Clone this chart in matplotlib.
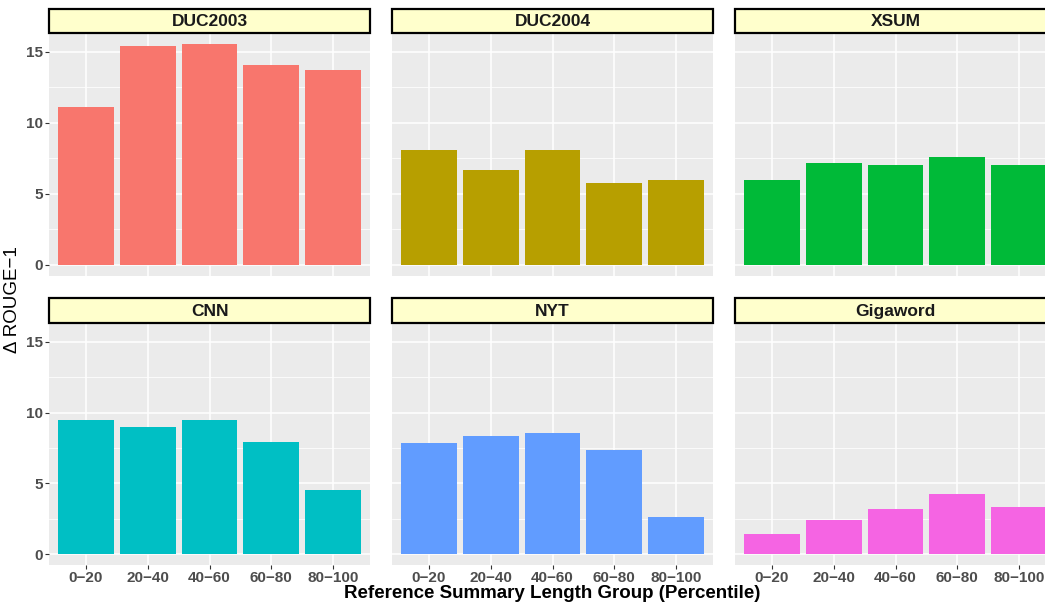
import numpy as np
import matplotlib
matplotlib.use("Agg")
import matplotlib.pyplot as plt
from matplotlib.patches import Rectangle

plt.rcParams["font.family"] = ["Liberation Sans", "DejaVu Sans"]

# ---- data ----
groups = ["0\u221220", "20\u221240", "40\u221260", "60\u221280", "80\u2212100"]
datasets = ["DUC2003", "DUC2004", "XSUM", "CNN", "NYT", "Gigaword"]
duc2003 = [11.15, 15.4, 15.55, 14.1, 13.7]
duc2004 = [8.1, 6.65, 8.1, 5.8, 6.0]
xsum = [6.0, 7.2, 7.05, 7.6, 7.05]
cnn = [9.45, 8.95, 9.45, 7.9, 4.5]
nyt = [7.85, 8.35, 8.55, 7.35, 2.6]
gigaword = [1.4, 2.4, 3.2, 4.25, 3.3]
values = [duc2003, duc2004, xsum, cnn, nyt, gigaword]
colors = ["#F8766D", "#B79F00", "#00BA38", "#00BFC4", "#619CFF", "#F564E3"]

W, H = 1045, 605
fig = plt.figure(figsize=(W / 100, H / 100), dpi=100)

col_left = [49, 392, 735]
panel_w = 321
rows = [(9, 33, 276), (298, 323, 565)]  # strip top, panel top, panel bottom

ymax = max(max(v) for v in values)
ylim = (-0.05 * ymax, ymax * 1.05)
x = np.arange(1, 6)

for i, (name, vals, col) in enumerate(zip(datasets, values, colors)):
    r, c = divmod(i, 3)
    st, pt, pb = rows[r]
    left = col_left[c]
    ax = fig.add_axes([left / W, 1 - pb / H, panel_w / W, (pb - pt) / H])
    ax.set_facecolor("#EBEBEB")
    ax.bar(x, vals, width=0.9, color=col, zorder=3)
    ax.set_xlim(0.4, 5.6)
    ax.set_ylim(*ylim)
    ax.set_yticks([0, 5, 10, 15])
    ax.set_yticks([2.5, 7.5, 12.5], minor=True)
    ax.set_xticks(x)
    ax.grid(which="major", color="white", linewidth=1.1, zorder=0)
    ax.grid(which="minor", axis="y", color="white", linewidth=0.55, zorder=0)
    for s in ax.spines.values():
        s.set_visible(False)
    ax.tick_params(which="minor", length=0)
    ax.tick_params(which="major", color="#333333", length=2.8, width=0.8, pad=1.5,
                   labelsize=11, labelcolor="#4D4D4D")
    if c == 0:
        ax.set_yticklabels(["0", "5", "10", "15"], fontweight="bold")
    else:
        ax.tick_params(axis="y", length=0, labelleft=False)
    if r == 1:
        ax.set_xticklabels(groups, fontweight="bold")
    else:
        ax.tick_params(axis="x", length=0, labelbottom=False)

    # strip
    sax = fig.add_axes([left / W, 1 - pt / H, panel_w / W, (pt - st) / H])
    sax.set_xlim(0, 1)
    sax.set_ylim(0, 1)
    sax.axis("off")
    sax.add_patch(Rectangle((0, 0), 1, 1, transform=sax.transAxes, facecolor="#FFFFCC",
                            edgecolor="black", linewidth=1.6, clip_on=False))
    sax.text(0.5, 0.46, name, ha="center", va="center", fontsize=12.5,
             fontweight="bold", color="#1A1A1A")

fig.text(13 / W, 1 - 300 / H, "\u0394 ROUGE\u22121", rotation=90, ha="center",
         va="center", fontsize=13.5)
fig.text(552 / W, 1 - 593 / H, "Reference Summary Length Group (Percentile)",
         ha="center", va="center", fontsize=13.5, fontweight="bold")

fig.savefig("out.png", dpi=100)
